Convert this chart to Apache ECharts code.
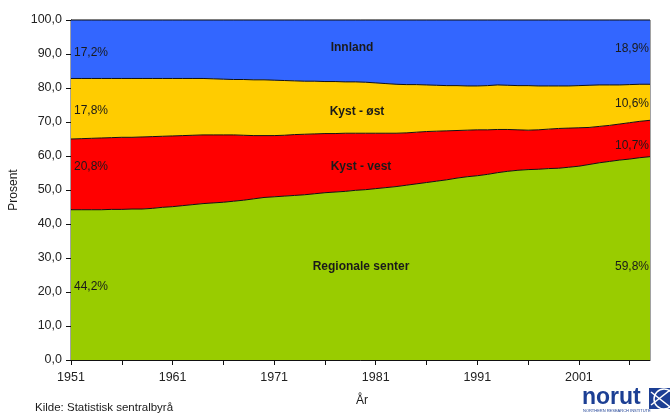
<!DOCTYPE html>
<html>
<head>
<meta charset="utf-8">
<script src="https://cdn.jsdelivr.net/npm/echarts@6/dist/echarts.min.js"></script>
<style>
html,body{margin:0;padding:0;background:#fff;}
#c{width:670px;height:414px;}
</style>
</head>
<body>
<div id="c"></div>
<script>
const years = [];
for (let y = 1951; y <= 2008; y++) years.push(String(y));

const regionaleSenter = [44.2,44.2,44.2,44.2,44.3,44.3,44.4,44.4,44.6,44.9,
  45.1,45.4,45.7,46.0,46.2,46.4,46.7,47.0,47.4,47.8,
  48.0,48.2,48.4,48.6,48.9,49.2,49.4,49.6,49.9,50.1,
  50.4,50.7,51.0,51.4,51.8,52.2,52.6,53.0,53.5,53.9,
  54.2,54.6,55.1,55.5,55.8,56.0,56.1,56.3,56.4,56.7,
  57.0,57.5,58.0,58.4,58.8,59.1,59.5,59.8];
const kystVest = [20.8,20.9,21.0,21.1,21.1,21.2,21.1,21.2,21.1,20.9,
  20.8,20.6,20.4,20.2,20.0,19.8,19.5,19.1,18.6,18.2,
  18.0,17.9,17.9,17.8,17.6,17.4,17.2,17.1,16.8,16.6,
  16.3,16.0,15.7,15.4,15.2,15.0,14.7,14.4,14.0,13.7,
  13.5,13.1,12.7,12.3,11.9,11.6,11.6,11.6,11.7,11.5,
  11.3,10.9,10.7,10.6,10.6,10.7,10.7,10.7];
const kystOst = [17.8,17.7,17.6,17.5,17.4,17.3,17.3,17.2,17.1,17.0,
  16.9,16.8,16.7,16.6,16.5,16.4,16.3,16.4,16.4,16.4,
  16.3,16.1,15.8,15.6,15.5,15.3,15.3,15.1,15.1,15.0,
  14.8,14.6,14.4,14.2,14.0,13.7,13.5,13.3,13.2,13.0,
  12.9,13.0,13.1,13.0,13.0,13.1,12.9,12.7,12.5,12.4,
  12.4,12.4,12.2,11.9,11.5,11.2,10.9,10.6];
const innland = [17.2,17.2,17.2,17.2,17.2,17.2,17.2,17.2,17.2,17.2,
  17.2,17.2,17.2,17.2,17.3,17.4,17.5,17.5,17.6,17.6,
  17.7,17.8,17.9,18.0,18.0,18.1,18.1,18.2,18.2,18.3,
  18.5,18.7,18.9,19.0,19.0,19.1,19.2,19.3,19.3,19.4,
  19.4,19.3,19.1,19.2,19.3,19.3,19.4,19.4,19.4,19.4,
  19.3,19.2,19.1,19.1,19.1,19.0,18.9,18.9];

const seriesNames = ['Regionale senter','Kyst - vest','Kyst - øst','Innland'];
const seriesData = [regionaleSenter, kystVest, kystOst, innland];
const seriesColors = ['#99CC00','#FF0000','#FFCC00','#3366FF'];

const startLabels = ['44,2%','20,8%','17,8%','17,2%'];
const endLabels = ['59,8%','10,7%','10,6%','18,9%'];

const FONT = '"Liberation Sans", Arial, sans-serif';
const chart = echarts.init(document.getElementById('c'), null, {renderer:'canvas'});

const txt = (x, y, text, opts, extra) => Object.assign({
  type:'text', x:x, y:y, z:100,
  style: Object.assign({text:text, fontFamily:FONT, fontSize:12, fill:'#1a1a1a'}, opts || {})
}, extra || {});

chart.setOption({
  animation:false,
  backgroundColor:'#fff',
  grid:{left:71, right:20, top:20, bottom:54, show:true, borderColor:'#444', borderWidth:1, backgroundColor:'transparent'},
  xAxis:{
    type:'category', data:years, boundaryGap:false,
    axisLine:{show:true, lineStyle:{color:'#111', width:1}},
    axisTick:{show:true, interval:4, length:5, lineStyle:{color:'#111'}},
    axisLabel:{interval:9, margin:11, color:'#222', fontSize:12.5, fontFamily:FONT},
    splitLine:{show:false}
  },
  yAxis:{
    type:'value', min:0, max:100, interval:10,
    axisLine:{show:true, lineStyle:{color:'#111', width:1}},
    axisTick:{show:true, length:5, lineStyle:{color:'#111'}},
    axisLabel:{margin:9, color:'#222', fontSize:12.5, fontFamily:FONT,
      formatter: v => v.toFixed(1).replace('.', ',')},
    splitLine:{show:false}
  },
  series: seriesNames.map((n,i) => ({
    name:n, type:'line', stack:'total', data:seriesData[i],
    symbol:'none', showSymbol:false,
    lineStyle:{color:'#111', width:1},
    areaStyle:{color:seriesColors[i], opacity:1},
    itemStyle:{color:seriesColors[i]},
    z: 2
  })),
  graphic:[
    txt(14, 190, 'Prosent', {align:'center', verticalAlign:'middle'}, {rotation:Math.PI/2}),
    txt(362, 401, 'År', {align:'center', verticalAlign:'middle'}),
    txt(35, 408, 'Kilde: Statistisk sentralbyrå', {fontSize:11.5, verticalAlign:'middle'}),
    txt(74, 53, startLabels[3], {verticalAlign:'middle'}),
    txt(74, 111, startLabels[2], {verticalAlign:'middle'}),
    txt(74, 167, startLabels[1], {verticalAlign:'middle'}),
    txt(74, 287, startLabels[0], {verticalAlign:'middle'}),
    txt(649, 49, endLabels[3], {align:'right', verticalAlign:'middle'}),
    txt(649, 104, endLabels[2], {align:'right', verticalAlign:'middle'}),
    txt(649, 146, endLabels[1], {align:'right', verticalAlign:'middle'}),
    txt(649, 267, endLabels[0], {align:'right', verticalAlign:'middle'}),
    txt(352, 48, seriesNames[3], {align:'center', verticalAlign:'middle', fontWeight:'bold'}),
    txt(357, 112, seriesNames[2], {align:'center', verticalAlign:'middle', fontWeight:'bold'}),
    txt(361, 167, seriesNames[1], {align:'center', verticalAlign:'middle', fontWeight:'bold'}),
    txt(361, 267, seriesNames[0], {align:'center', verticalAlign:'middle', fontWeight:'bold'}),
    txt(582, 398, 'norut', {fontSize:23, fontWeight:'bold', fill:'#1c3f94', verticalAlign:'middle'}),
    txt(583, 411, 'NORTHERN RESEARCH INSTITUTE', {fontSize:4, fill:'#1c3f94', verticalAlign:'middle'}),
    {type:'rect', shape:{x:649, y:388, width:21, height:21}, style:{fill:'#1c3f94'}, z:100},
    {type:'circle', shape:{cx:664, cy:399, r:10}, style:{fill:'none', stroke:'#fff', lineWidth:1.5}, z:101},
    {type:'line', shape:{x1:651, y1:392, x2:670, y2:407}, style:{stroke:'#fff', lineWidth:1.5}, z:101},
    {type:'line', shape:{x1:651, y1:405, x2:670, y2:390}, style:{stroke:'#fff', lineWidth:1.5}, z:101}
  ]
});
</script>
</body>
</html>
